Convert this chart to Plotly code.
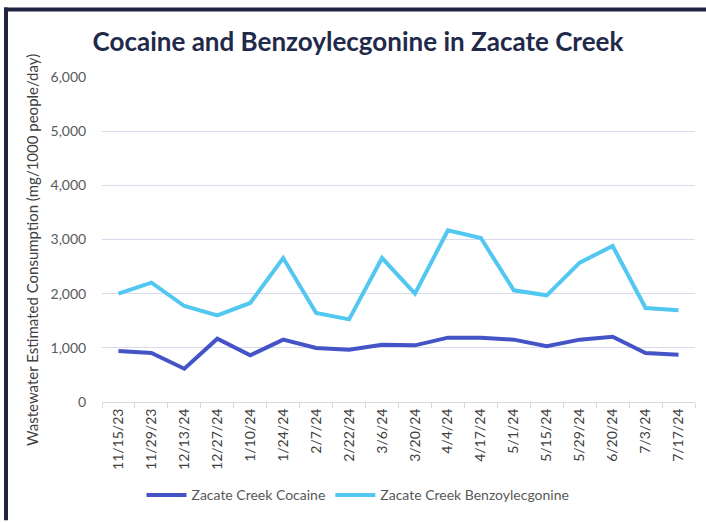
import plotly.graph_objects as go

dates = ["11/15/23", "11/29/23", "12/13/24", "12/27/24", "1/10/24", "1/24/24", "2/7/24",
         "2/22/24", "3/6/24", "3/20/24", "4/4/24", "4/17/24", "5/1/24", "5/15/24",
         "5/29/24", "6/20/24", "7/3/24", "7/17/24"]
cocaine = [942, 905, 615, 1169, 862, 1151, 997, 966, 1058, 1046, 1188, 1188, 1151, 1028,
           1151, 1206, 905, 874]
benzo = [2000, 2203, 1772, 1600, 1828, 2658, 1643, 1526, 2658, 2000, 3169, 3028, 2062, 1969,
         2572, 2880, 1735, 1692]

fig = go.Figure()
fig.add_trace(go.Scatter(x=dates, y=cocaine, mode="lines", name="Zacate Creek Cocaine",
                         line=dict(color="#4453C6", width=4)))
fig.add_trace(go.Scatter(x=dates, y=benzo, mode="lines", name="Zacate Creek Benzoylecgonine",
                         line=dict(color="#52C8F0", width=4)))

W, H = 706, 523
L, R, T, B = 102, 11, 77, 119
PW, PH = W - L - R, H - T - B

font_family = "Lato, 'Open Sans', sans-serif"
fig.update_layout(
    width=W, height=H,
    margin=dict(l=L, r=R, t=T, b=B),
    paper_bgcolor="white", plot_bgcolor="white",
    font=dict(family=font_family, color="#595959", size=14),
    title=dict(text="<b>Cocaine and Benzoylecgonine in Zacate Creek</b>",
               x=358 / W, xanchor="center", y=1 - 42 / H, yanchor="middle",
               font=dict(size=26, color="#1F2A4A", family=font_family)),
    showlegend=True,
    legend=dict(orientation="h", x=(358 - L) / PW, xanchor="center",
                y=(404 - 498) / PH, yanchor="middle",
                font=dict(size=14, color="#595959"), itemwidth=40, traceorder="normal"),
)
fig.update_xaxes(type="category", range=[-0.5, len(dates) - 0.5], tickangle=-90,
                 showgrid=False, showline=True, linecolor="#D9D9D9", linewidth=1,
                 ticks="outside", tickson="boundaries", ticklen=5, tickcolor="#D9D9D9",
                 tickfont=dict(size=14, color="#404040"))
fig.update_yaxes(range=[0, 6000], dtick=1000, tickformat=",", showgrid=True,
                 gridcolor="#D9D9EE", gridwidth=1, zeroline=False, showline=False,
                 ticks="outside", ticklen=12, tickcolor="rgba(0,0,0,0)",
                 tickfont=dict(size=14, color="#595959"))
fig.add_annotation(text="Wastewater Estimated Consumption (mg/1000 people/day)",
                   xref="paper", yref="paper", x=(32 - L) / PW, y=(404 - 251) / PH,
                   xanchor="center", yanchor="middle", textangle=-90, showarrow=False,
                   font=dict(size=15, color="#404040"))
# dark frame bars (left and top)
fig.add_shape(type="rect", xref="paper", yref="paper",
              x0=(4 - L) / PW, x1=(8 - L) / PW, y0=(404 - H) / PH, y1=(404 - 7) / PH,
              fillcolor="#1F2440", line_width=0, layer="above")
fig.add_shape(type="rect", xref="paper", yref="paper",
              x0=(4 - L) / PW, x1=(W - L) / PW, y0=(404 - 11) / PH, y1=(404 - 7) / PH,
              fillcolor="#1F2440", line_width=0, layer="above")
fig.write_html("out.html", config={"displayModeBar": False},
               post_script="document.body.style.margin='0px';")
